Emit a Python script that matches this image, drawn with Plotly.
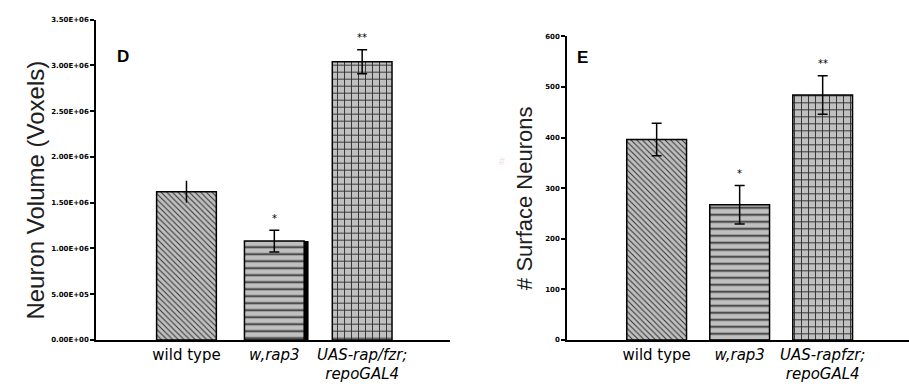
import plotly.graph_objects as go

# ---- data ----
categories = ["wild type", "w,rap3", "UAS-rap/fzr; repoGAL4"]
tick_text_d = ["wild type", "<i>w,rap3</i>", "<i>UAS-rap/fzr;</i><br><i>repoGAL4</i>"]
tick_text_e = ["wild type", "<i>w,rap3</i>", "<i>UAS-rapfzr;</i><br><i>repoGAL4</i>"]

volume_vals = [1.62e6, 1.08e6, 3.04e6]
volume_errs = [0.12e6, 0.12e6, 0.13e6]
volume_sig = ["", "*", "**"]

surface_vals = [396, 267, 484]
surface_errs = [32, 38, 38]
surface_sig = ["", "*", "**"]

vol_ticks = [0, 0.5e6, 1.0e6, 1.5e6, 2.0e6, 2.5e6, 3.0e6, 3.5e6]
vol_ticktext = ["0.00E+00", "5.00E+05", "1.00E+06", "1.50E+06", "2.00E+06",
                "2.50E+06", "3.00E+06", "3.50E+06"]
surf_ticks = [0, 100, 200, 300, 400, 500, 600]
surf_ticktext = ["0", "100", "200", "300", "400", "500", "600"]

patterns = ["\\", "-", "+"]
pattern_sizes = [4, 7, 7]

W, H = 909, 389
fig = go.Figure()

xs = [0, 1, 2]

# shadow behind w,rap3 bar in panel D
fig.add_trace(go.Bar(x=[xs[1]], y=[volume_vals[1]], width=0.68, offset=-0.34 + 0.05,
                     marker=dict(color="black", line=dict(width=0)),
                     xaxis="x", yaxis="y", showlegend=False, hoverinfo="skip"))

def add_panel(vals, errs, sig, xa, ya, bw, cap_widths):
    for i in range(3):
        fig.add_trace(go.Bar(
            x=[xs[i]], y=[vals[i]], width=bw,
            marker=dict(color="#c0c0c0",
                        line=dict(color="black", width=1.5),
                        pattern=dict(shape=patterns[i], size=pattern_sizes[i],
                                     solidity=0.25, fgcolor="#303030",
                                     bgcolor="#c0c0c0", fillmode="replace")),
            error_y=dict(type="data", array=[errs[i]], visible=True,
                         color="black", thickness=1.5, width=cap_widths[i]),
            xaxis=xa, yaxis=ya, showlegend=False))
        if sig[i]:
            fig.add_annotation(x=xs[i], y=vals[i] + errs[i], xref=xa, yref=ya,
                               text=sig[i], showarrow=False, yshift=12,
                               font=dict(size=10, color="black", family="DejaVu Sans"))

add_panel(volume_vals, volume_errs, volume_sig, "x", "y", 0.68, [0, 5, 5])
add_panel(surface_vals, surface_errs, surface_sig, "x2", "y2", 0.72, [5, 5, 5])

axis_line = dict(showline=True, linecolor="black", linewidth=1.5, showgrid=False,
                 zeroline=False)
tickfont_small = dict(size=7, color="black", family="DejaVu Sans", weight="bold")
xfont = dict(size=15, color="black", family="DejaVu Sans")

fig.update_layout(
    width=W, height=H, margin=dict(l=0, r=0, t=0, b=0),
    paper_bgcolor="white", plot_bgcolor="white", barmode="overlay",
    xaxis=dict(domain=[96 / W, 450 / W], range=[-1.03, 3.0], tickvals=xs,
               ticktext=tick_text_d, ticks="", tickfont=xfont, anchor="y", **axis_line),
    yaxis=dict(domain=[46 / H, (H - 16) / H], range=[0, 3.5e6], tickvals=vol_ticks,
               ticktext=vol_ticktext, ticks="outside", ticklen=4, tickwidth=1.5,
               tickcolor="black", tickfont=tickfont_small, anchor="x", **axis_line),
    xaxis2=dict(domain=[567 / W, 1.0], range=[-1.08, 3.04], tickvals=xs,
                ticktext=tick_text_e, ticks="", tickfont=xfont, anchor="y2", **axis_line),
    yaxis2=dict(domain=[46 / H, (H - 33) / H], range=[0, 600], tickvals=surf_ticks,
                ticktext=surf_ticktext, ticks="outside", ticklen=4, tickwidth=1.5,
                tickcolor="black", tickfont=tickfont_small, anchor="x2", **axis_line),
)

# axis titles and panel letters
fig.add_annotation(x=20 / W, y=(H - 190) / H, xref="paper", yref="paper",
                   text="Neuron Volume (Voxels)", textangle=-90, showarrow=False,
                   font=dict(size=24, color="#202020", family="Liberation Sans"))
fig.add_annotation(x=525 / W, y=(H - 199) / H, xref="paper", yref="paper",
                   text="# Surface Neurons", textangle=-90, showarrow=False,
                   font=dict(size=22, color="#202020", family="Liberation Sans"))
fig.add_annotation(x=503 / W, y=(H - 160) / H, xref="paper", yref="paper",
                   text="#", showarrow=False,
                   font=dict(size=11, color="#f3dada", family="Liberation Sans"))
fig.add_annotation(x=115 / W, y=(H - 42) / H, xref="paper", yref="paper",
                   text="<b>D</b>", showarrow=False,
                   font=dict(size=17, color="black", family="Liberation Sans"))
fig.add_annotation(x=582 / W, y=(H - 43) / H, xref="paper", yref="paper",
                   text="<b>E</b>", showarrow=False,
                   font=dict(size=17, color="black", family="Liberation Sans"))

fig.write_html("out.html", post_script="document.body.style.margin='0px';",
               config={"displayModeBar": False})
